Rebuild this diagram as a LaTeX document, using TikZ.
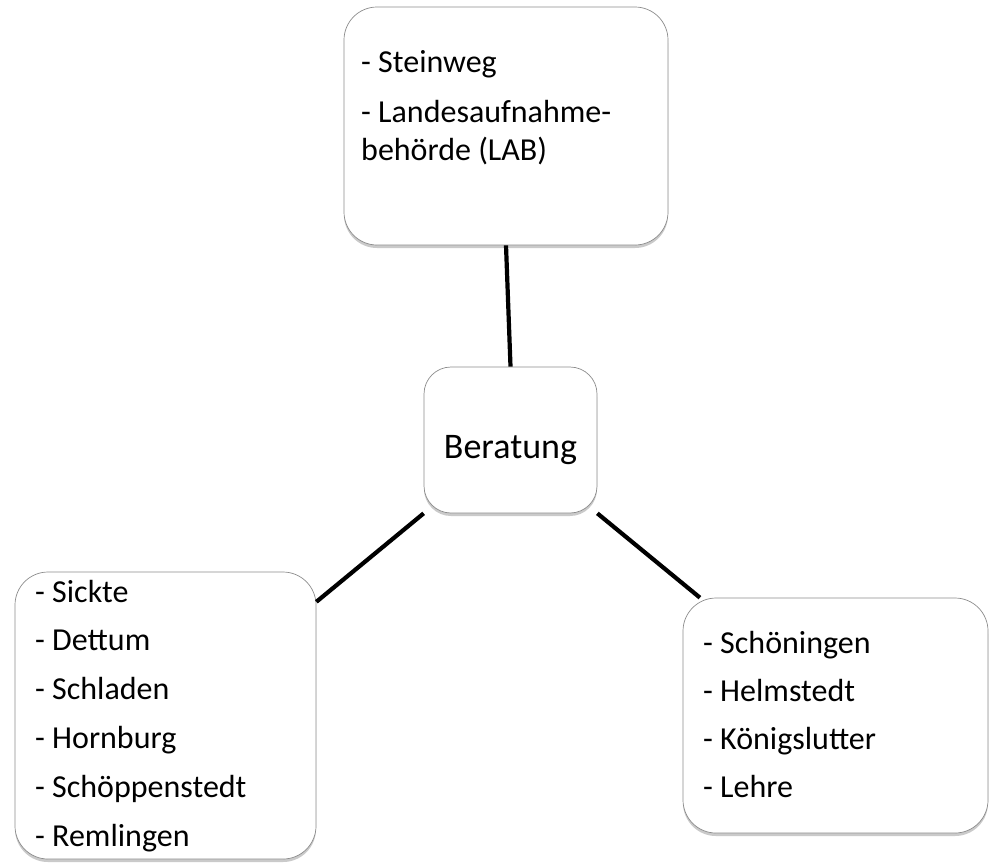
\documentclass[tikz,border=0pt]{standalone}
\usepackage{fontspec}
\setmainfont{Carlito}
\usepackage{tikz}
\usetikzlibrary{shapes,shadows,positioning}
\tikzstyle{line} = [draw, line width=4.2pt]
\tikzstyle{box} = [rectangle, draw=black!45, line width=0.7pt, fill=white, rounded corners=33pt,
   drop shadow={shadow xshift=0pt, shadow yshift=-3pt, opacity=0.35, fill=black!60}, inner sep=0pt]
\tikzstyle{list} = [anchor=base west, align=left, inner sep=0pt, font=\fontsize{32}{38}\selectfont]

\begin{document}
\begin{tikzpicture}[x=1pt,y=-1pt]
\useasboundingbox (0,0) rectangle (992,863);

\node (amt) [box, minimum width=324pt, minimum height=238pt] at (506,126) {};
% base = last line
\node (amttxt) [list] at (361,160) {- Steinweg\\[12pt]
- Landesaufnahme-\\
behörde (LAB)};

\node (beratung) [box, rounded corners=27pt, minimum width=173pt, minimum height=146pt] at (510.5,440) {};
\node (beratungtxt) [anchor=base, inner sep=0pt, font=\fontsize{36}{43}\selectfont] at (510.5,458) {Beratung};

\node (west) [box, minimum width=301pt, minimum height=287pt] at (165.5,715.5) {};
\node (westtxt) [list] at (35,846) {- Sickte\\[10.8pt]
- Dettum\\[10.8pt]
- Schladen\\[10.8pt]
- Hornburg\\[10.8pt]
- Schöppenstedt\\[10.8pt]
- Remlingen};

\node (ost) [box, minimum width=305pt, minimum height=235pt] at (835.5,715.5) {};
\node (osttxt) [list] at (703,797) {- Schöningen\\[10pt]
- Helmstedt\\[10pt]
- Königslutter\\[10pt]
- Lehre};

\draw [line] (amt.south) -- (beratung.north);
\draw [line] (beratung.south west) -- (west.37);
\draw [line] (beratung.south east) -- (ost.139);

\end{tikzpicture}
\end{document}
